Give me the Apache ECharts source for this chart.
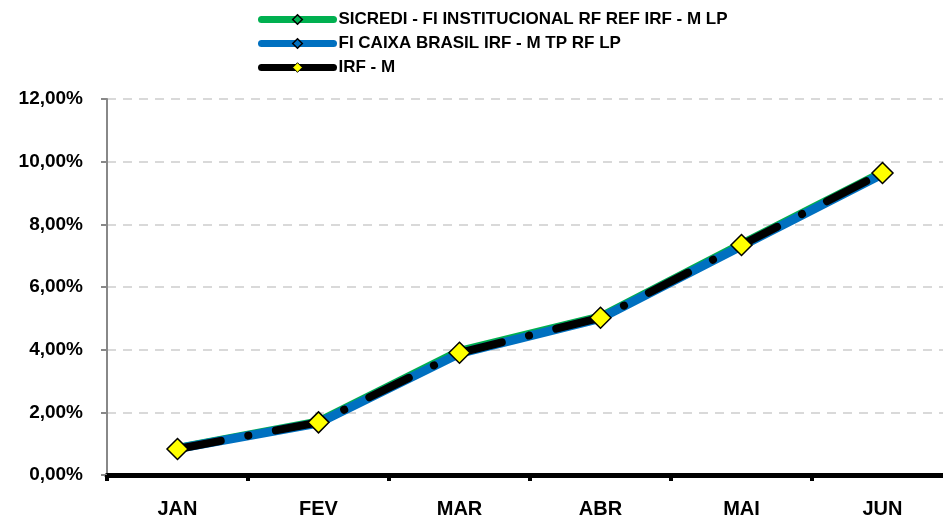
<!DOCTYPE html>
<html>
<head>
<meta charset="utf-8">
<script src="https://cdn.jsdelivr.net/npm/echarts@6/dist/echarts.min.js"></script>
<style>
  html, body { margin: 0; padding: 0; overflow: hidden; background: #fff; }
  #chart { width: 953px; height: 519px; }
</style>
</head>
<body>
<div id="chart"></div>
<script>
var meses = ["JAN", "FEV", "MAR", "ABR", "MAI", "JUN"];
var sicredi = [0.86, 1.71, 3.96, 5.06, 7.38, 9.67];
var caixa = [0.84, 1.66, 3.88, 5.00, 7.31, 9.61];
var irfm = [0.83, 1.68, 3.90, 5.02, 7.34, 9.64];

var fonte = "'Liberation Sans', Arial, sans-serif";
var chart = echarts.init(document.getElementById("chart"));

chart.setOption({
  animation: false,
  legend: {
    orient: "vertical",
    left: 253,
    top: 6,
    itemWidth: 72,
    itemHeight: 12,
    itemGap: 7,
    textStyle: { fontFamily: fonte, fontWeight: "bold", fontSize: 17, lineHeight: 17, color: "#000" },
    data: [
      {
        name: "SICREDI - FI INSTITUCIONAL RF REF IRF - M LP",
        itemStyle: { color: "#00b050", borderColor: "#000", borderWidth: 1.5 },
        lineStyle: { color: "#00b050", width: 7, cap: "round" }
      },
      {
        name: "FI CAIXA BRASIL IRF - M TP RF LP",
        itemStyle: { color: "#0070c0", borderColor: "#000", borderWidth: 1.5 },
        lineStyle: { color: "#0070c0", width: 7, cap: "round" }
      },
      {
        name: "IRF - M",
        itemStyle: { color: "#ffff00", borderColor: "#000", borderWidth: 1 },
        lineStyle: { color: "#000", width: 7, type: "solid", cap: "round" }
      }
    ]
  },
  grid: { left: 107, right: 0, top: 99, bottom: 44 },
  xAxis: {
    type: "category",
    data: meses,
    axisLine: { lineStyle: { color: "#000", width: 5 } },
    axisTick: { show: true, length: 6, lineStyle: { color: "#000", width: 4 } },
    axisLabel: { fontFamily: fonte, fontWeight: "bold", fontSize: 20, color: "#000", margin: 24 }
  },
  yAxis: {
    type: "value",
    min: 0,
    max: 12,
    interval: 2,
    axisLine: { show: true, lineStyle: { color: "#888", width: 2 } },
    axisTick: { show: true, length: 6, lineStyle: { color: "#888", width: 2 } },
    axisLabel: {
      fontFamily: fonte, fontWeight: "bold", fontSize: 19, color: "#000", margin: 24,
      formatter: function (v) { return v.toFixed(2).replace(".", ",") + "%"; }
    },
    splitLine: { lineStyle: { color: "#d9d9d9", width: 2, type: [9, 7] } }
  },
  series: [
    {
      name: "SICREDI - FI INSTITUCIONAL RF REF IRF - M LP",
      type: "line",
      data: sicredi,
      symbol: "diamond",
      symbolSize: 9,
      showSymbol: false,
      color: "#00b050",
      lineStyle: { color: "#00b050", width: 8 }
    },
    {
      name: "FI CAIXA BRASIL IRF - M TP RF LP",
      type: "line",
      data: caixa,
      symbol: "diamond",
      symbolSize: 9,
      showSymbol: false,
      color: "#0070c0",
      lineStyle: { color: "#0070c0", width: 9 }
    },
    {
      name: "IRF - M",
      type: "line",
      data: irfm,
      symbol: "diamond",
      symbolSize: 21,
      color: "#000",
      itemStyle: { color: "#ffff00", borderColor: "#000", borderWidth: 1.5 },
      lineStyle: { color: "#000", width: 8, type: [44, 28, 0.1, 28], cap: "round" },
      z: 5
    }
  ]
});
</script>
</body>
</html>
